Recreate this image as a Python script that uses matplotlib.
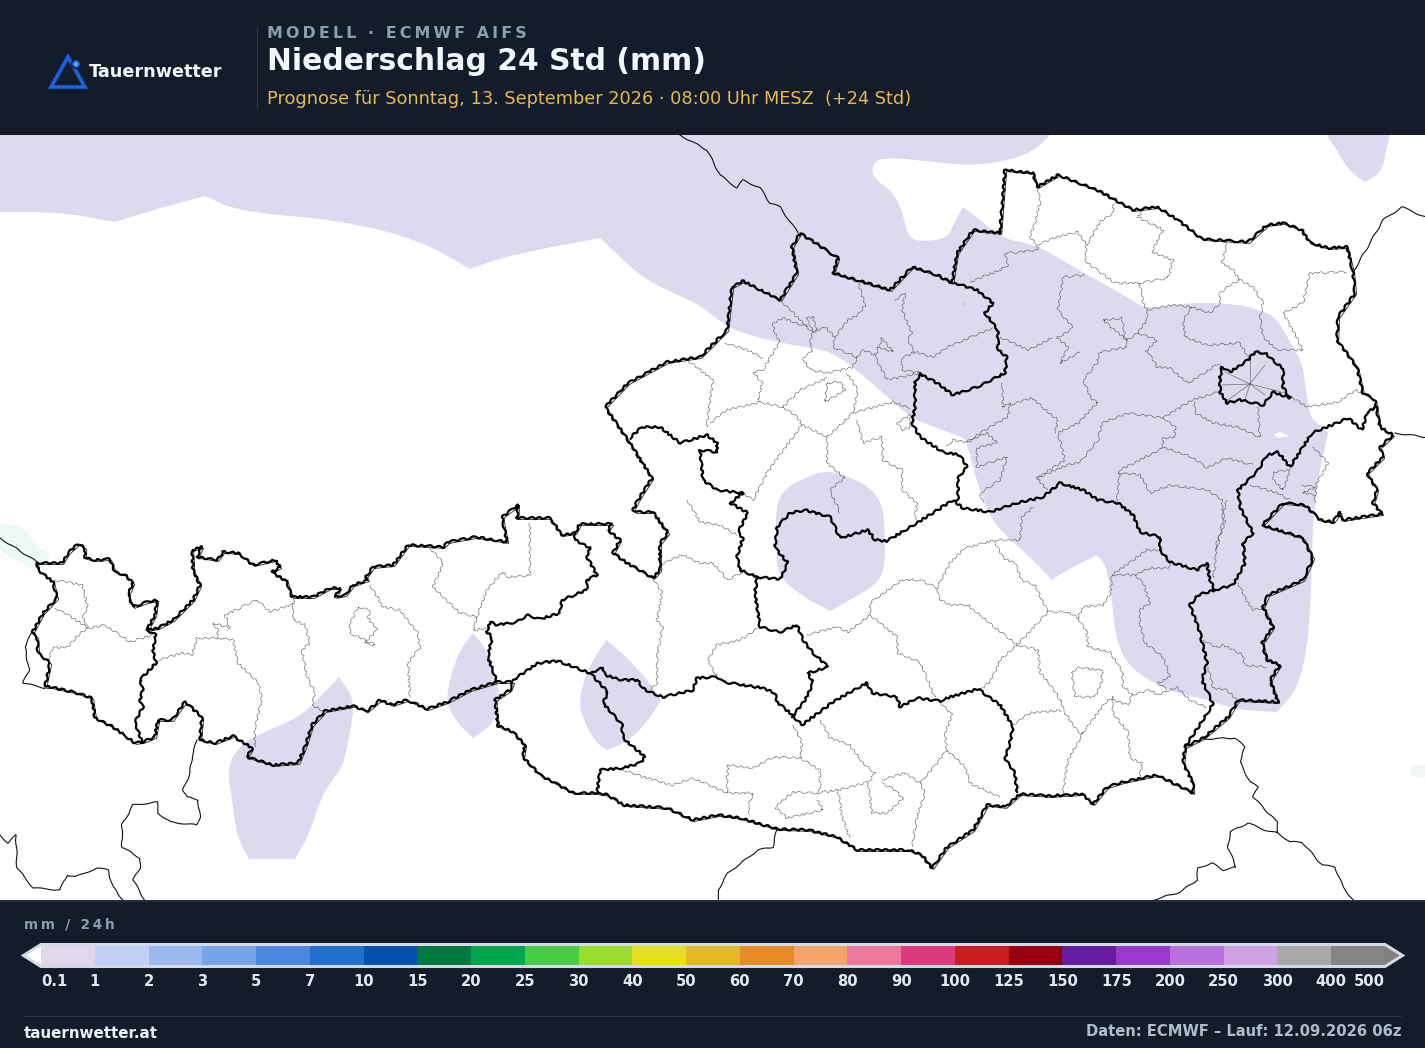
#!/usr/bin/env python3
"""Tauernwetter precipitation map, ECMWF AIFS, 24 h total."""

import matplotlib
matplotlib.use('Agg')
import matplotlib.pyplot as plt
from matplotlib.colors import BoundaryNorm, ListedColormap
from matplotlib.cm import ScalarMappable
from matplotlib.patches import Polygon, Circle, PathPatch
from matplotlib.path import Path
from matplotlib.transforms import offset_copy

W, H = 1425, 1048
BG = '#121c2a'

# Colour scale
LEVELS = [0.1, 1, 2, 3, 5, 7, 10, 15, 20, 25, 30, 40, 50, 60, 70, 80, 90, 100,
          125, 150, 175, 200, 250, 300, 400, 500]
LEVEL_LABELS = ['0.1', '1', '2', '3', '5', '7', '10', '15', '20', '25', '30', '40', '50',
                '60', '70', '80', '90', '100', '125', '150', '175', '200', '250', '300',
                '400', '500']
LEVEL_COLORS = ['#e0d8ea', '#c0d0f5', '#98b8ee', '#78a4e8', '#4a88e0', '#2070d0', '#0850b0',
                '#007a40', '#00a550', '#48cc48', '#98dc30', '#e4e020', '#e4b820', '#e88a28',
                '#f4a468', '#ec7a9c', '#dc3a7c', '#cc1c1c', '#980010', '#661ca0', '#9838cc',
                '#b870dc', '#d0a0e4', '#a8a8a8', '#848484']

# Precipitation areas, map units; a repeated vertex keeps that corner sharp
RAIN_NORTH_EAST = [(-30, 100), (-30, 212), (0, 212), (60, 212), (115, 222), (115, 222), (160, 208), (205, 196), (205, 196), (240, 212),
    (340, 220), (420, 240), (470, 269), (470, 269), (510, 255), (600, 238), (600, 238), (620, 257), (643, 278), (673, 293),
    (700, 305), (727, 327), (750, 335), (780, 343), (813, 348), (833, 353), (857, 370), (883, 393),
    (910, 417), (933, 427), (963, 437), (967, 443), (977, 483), (990, 517), (1005, 535), (1030, 557),
    (1052, 580), (1052, 580), (1067, 570), (1097, 555), (1097, 555), (1107, 567), (1112, 600), (1115, 633), (1123, 657),
    (1137, 673), (1163, 688), (1183, 695), (1210, 700), (1237, 710), (1277, 712), (1277, 712), (1297, 690),
    (1307, 650), (1310, 610), (1312, 567), (1313, 523), (1315, 507), (1317, 483), (1328, 433), (1328, 433),
    (1320, 425), (1310, 418), (1305, 383), (1302, 363), (1293, 347), (1277, 318), (1260, 310),
    (1230, 303), (1180, 303), (1147, 310), (1127, 297), (1100, 282), (1070, 265), (1037, 245),
    (1000, 238), (977, 217), (963, 207), (963, 207), (953, 225), (948, 238), (920, 242), (908, 237), (903, 213),
    (893, 192), (873, 178), (872, 163), (887, 157), (933, 162), (975, 166), (1025, 157), (1052, 135), (1075, 100)]
RAIN_CENTER = [(776, 503), (787, 487), (807, 477), (827, 470), (853, 478), (873, 490), (883, 507),
    (885, 533), (885, 567), (877, 585), (830, 611), (830, 611), (800, 595), (777, 575), (776, 540)]
RAIN_SOUTH_WEST = [(339, 677), (339, 677), (355, 700), (350, 733), (343, 767), (330, 783), (320, 800), (310, 833),
    (295, 859), (295, 859), (249, 859), (249, 859), (237, 837), (232, 800), (227, 767), (240, 745), (257, 735), (300, 717),
    (320, 697)]
RAIN_ZILLER = [(473, 633), (473, 633), (487, 650), (498, 683), (500, 707), (492, 725), (473, 738), (473, 738), (457, 723),
    (446, 703), (450, 677), (460, 650)]
RAIN_TAUERN = [(606, 640), (606, 640), (627, 657), (650, 683), (661, 700), (661, 700), (647, 723), (627, 742), (607, 750), (607, 750),
    (595, 742), (582, 717), (579, 700), (587, 670)]
RAIN_TOP_RIGHT = [(1315, 110), (1326, 135), (1337, 150), (1348, 170), (1365, 182), (1365, 182), (1382, 172), (1386, 150), (1390, 135), (1395, 110)]
TRACE_WEST = [(-20, 522), (25, 525), (33, 545), (55, 555), (37, 570), (25, 565), (-20, 540)]
TRACE_EAST = [(1412, 765), (1440, 765), (1440, 777), (1412, 777), (1409, 771)]
DRY_SPECK = [(1273, 434), (1280, 432), (1290, 436), (1278, 438)]
WET_SPECK = [(960, 304), (963, 301), (967, 304), (963, 307)]

# Austria, outer border
AUSTRIA = [(37, 563), (50, 563), (62, 563), (68, 553), (78, 544), (85, 548), (85, 558), (95, 560),
    (110, 559), (115, 572), (125, 575), (133, 583), (128, 595), (133, 607), (147, 602), (157, 600),
    (155, 615), (147, 630), (158, 628), (173, 620), (193, 600), (200, 585), (193, 570), (192, 550),
    (202, 547), (197, 557), (217, 560), (223, 552), (238, 553), (253, 565), (275, 560), (280, 567),
    (272, 572), (287, 582), (292, 597), (313, 597), (330, 588), (340, 588), (335, 597), (345, 595),
    (353, 585), (368, 580), (365, 578), (373, 567), (393, 565), (408, 545), (443, 547), (448, 542),
    (475, 537), (500, 541), (507, 542), (502, 517), (518, 505), (517, 518), (550, 518), (562, 535),
    (575, 533), (580, 524), (612, 524), (608, 530), (620, 540), (613, 553), (627, 563), (653, 578),
    (660, 570), (660, 543), (668, 533), (653, 512), (635, 512), (633, 510), (638, 500), (652, 478),
    (628, 440), (605, 407), (628, 383), (667, 362), (700, 357), (727, 330), (732, 287), (743, 281),
    (780, 300), (797, 273), (792, 247), (800, 233), (838, 258), (833, 273), (890, 290), (912, 267),
    (937, 275), (952, 283), (957, 253), (973, 230), (1000, 233), (1005, 170), (1033, 173), (1037, 187),
    (1058, 175), (1097, 190), (1133, 210), (1157, 207), (1178, 220), (1202, 239), (1248, 242),
    (1267, 225), (1283, 223), (1302, 230), (1310, 243), (1328, 248), (1347, 247), (1353, 272),
    (1355, 293), (1338, 317), (1337, 340), (1357, 367), (1363, 393), (1375, 400), (1378, 417),
    (1380, 427), (1393, 435), (1380, 447), (1383, 457), (1367, 473), (1377, 490), (1373, 503),
    (1382, 514), (1342, 520), (1340, 512), (1333, 522), (1320, 520), (1305, 505), (1283, 503),
    (1262, 525), (1303, 538), (1313, 558), (1303, 580), (1268, 595), (1263, 607), (1273, 627),
    (1262, 643), (1267, 660), (1280, 665), (1270, 680), (1278, 702), (1238, 700), (1228, 717),
    (1203, 738), (1185, 747), (1183, 763), (1193, 783), (1193, 793), (1157, 775), (1123, 782),
    (1107, 787), (1093, 804), (1082, 794), (1050, 796), (1020, 794), (1005, 807), (987, 805),
    (973, 830), (947, 847), (932, 868), (922, 855), (908, 850), (857, 850), (837, 837), (808, 830),
    (777, 829), (740, 818), (718, 815), (693, 820), (667, 808), (623, 805), (608, 795), (595, 793),
    (573, 793), (540, 775), (523, 757), (525, 745), (513, 732), (498, 726), (495, 700), (510, 690),
    (513, 682), (497, 682), (470, 690), (447, 702), (427, 709), (407, 700), (392, 705), (380, 700),
    (367, 711), (353, 706), (325, 711), (312, 725), (305, 747), (298, 763), (273, 765), (247, 757),
    (252, 748), (233, 736), (215, 743), (200, 740), (202, 717), (185, 702), (172, 720), (158, 720),
    (155, 737), (142, 742), (135, 743), (113, 727), (95, 718), (92, 698), (73, 692), (50, 687),
    (45, 687), (50, 663), (38, 653), (37, 637), (32, 633), (43, 613), (57, 598), (53, 582), (38, 570),
    (37, 563)]

# State borders
STATES = [
    [(147, 630), (156, 635), (153, 650), (156, 663), (140, 680), (143, 690), (140, 700), (143, 707),
     (135, 722), (142, 742)],
    [(575, 533), (575, 540), (590, 548), (587, 557), (597, 575), (587, 580), (587, 590), (562, 600),
     (560, 613), (540, 619), (527, 615), (517, 622), (497, 625), (490, 622), (487, 632), (492, 637),
     (488, 657), (497, 682)],
    [(513, 680), (538, 663), (558, 661), (590, 673), (608, 692), (603, 703), (622, 725), (623, 738),
     (645, 757), (640, 763), (623, 768), (600, 770), (597, 793)],
    [(592, 672), (603, 668), (605, 675), (622, 680), (637, 680), (645, 690), (663, 697), (693, 690),
     (697, 678), (717, 677), (723, 682), (763, 688), (775, 693), (777, 702), (790, 713), (802, 725),
     (833, 702), (850, 692), (867, 683), (872, 693), (897, 697), (900, 707), (917, 698), (940, 701),
     (950, 697), (978, 689), (1000, 705), (1013, 727), (1010, 743), (1005, 758), (1015, 773), (1017, 792)],
    [(792, 717), (805, 700), (813, 683), (808, 673), (828, 667), (813, 653), (803, 640), (797, 625),
     (780, 632), (760, 627), (755, 593), (757, 577), (740, 570), (737, 557), (743, 538), (738, 532),
     (748, 513), (730, 503), (743, 493), (717, 490), (703, 480), (700, 450), (717, 452), (717, 443),
     (707, 435), (680, 443), (660, 427), (642, 427), (630, 438)],
    [(757, 577), (780, 579), (788, 563), (775, 548), (777, 527), (790, 513), (805, 510), (830, 517),
     (840, 538), (868, 530), (875, 540), (887, 541), (917, 523), (953, 500), (963, 508), (990, 512),
     (1017, 503), (1043, 497), (1060, 483), (1083, 490), (1098, 500), (1118, 503), (1133, 515),
     (1140, 532), (1160, 537), (1160, 550), (1170, 562), (1197, 570), (1207, 563), (1210, 580),
     (1215, 590), (1198, 595), (1190, 605), (1200, 633), (1207, 663), (1202, 680), (1213, 704),
     (1203, 720), (1185, 747)],
    [(1215, 590), (1233, 585), (1245, 563), (1243, 543), (1253, 533), (1240, 507), (1238, 490),
     (1257, 472), (1267, 455), (1278, 452), (1290, 467), (1312, 433), (1337, 423), (1348, 418),
     (1362, 430), (1367, 412), (1377, 407)],
    [(955, 283), (977, 290), (993, 303), (985, 313), (998, 330), (998, 350), (1007, 357), (1005, 373),
     (997, 377), (977, 387), (953, 395), (937, 383), (920, 374), (915, 383), (915, 407), (912, 423),
     (920, 437), (943, 452), (960, 455), (967, 467), (958, 478), (958, 500)],
    [(1220, 377), (1222, 367), (1230, 372), (1248, 360), (1255, 352), (1265, 353), (1275, 362),
     (1283, 368), (1283, 387), (1290, 398), (1273, 392), (1263, 405), (1240, 400), (1227, 403),
     (1220, 392), (1220, 377)],
]

# Neighbouring countries
NEIGHBOURS = [
    [(0, 538), (37, 562)],
    [(680, 135), (707, 150), (720, 175), (737, 188), (743, 180), (760, 188), (770, 203), (780, 207), (798, 233)],
    [(1353, 272), (1370, 243), (1383, 220), (1402, 207), (1425, 217)],
    [(1395, 433), (1425, 437)],
    [(197, 740), (192, 757), (190, 773), (183, 790), (187, 797), (198, 800), (200, 817), (197, 825),
     (170, 822), (158, 813), (157, 802), (133, 805), (122, 825), (122, 847), (140, 858), (140, 868),
     (133, 880), (143, 897), (145, 900)],
    [(0, 835), (8, 843), (16, 835), (17, 868), (27, 880), (33, 888), (60, 890), (67, 875), (75, 877),
     (97, 868), (108, 870), (113, 887), (123, 900)],
    [(32, 632), (25, 647), (29, 670), (23, 683), (45, 688)],
    [(777, 829), (773, 847), (758, 850), (728, 873), (718, 890), (719, 900)],
    [(1203, 739), (1235, 738), (1245, 747), (1240, 762), (1250, 782), (1258, 787), (1253, 797),
     (1277, 822), (1278, 833), (1265, 830), (1248, 823), (1230, 832), (1228, 847), (1236, 867),
     (1223, 870), (1212, 863), (1198, 868), (1197, 880), (1180, 892), (1153, 900)],
    [(1278, 833), (1290, 842), (1302, 842), (1322, 865), (1335, 867), (1343, 887), (1353, 900)],
]

# District borders
DISTRICTS = [
    [(55, 580), (82, 585), (88, 607), (83, 617), (88, 628)],
    [(55, 608), (68, 615), (88, 628)],
    [(48, 660), (53, 648), (68, 647), (80, 633), (88, 628), (105, 625), (130, 642), (152, 635)],
    [(156, 661), (182, 653), (192, 655), (197, 638), (217, 638), (218, 630), (213, 623), (230, 628),
     (225, 615), (257, 600), (270, 612), (293, 604), (295, 598)],
    [(218, 638), (233, 640), (238, 663), (258, 682), (262, 697), (255, 727), (255, 747)],
    [(293, 604), (293, 620), (305, 625), (310, 643), (302, 650), (307, 677), (315, 692), (312, 705), (323, 711)],
    [(358, 607), (370, 610), (368, 618), (377, 630), (365, 643), (375, 645), (350, 633), (350, 623), (358, 607)],
    [(370, 585), (383, 607), (400, 610), (418, 633), (420, 647), (408, 663), (410, 697)],
    [(430, 548), (443, 563), (433, 587), (460, 613), (477, 617), (473, 630), (490, 628)],
    [(477, 617), (487, 590), (502, 572), (508, 577), (530, 575), (530, 523)],
    [(653, 578), (662, 593), (657, 620), (663, 627), (657, 657), (657, 683), (650, 690)],
    [(660, 565), (682, 555), (700, 563), (713, 563), (728, 580), (743, 572)],
    [(687, 500), (700, 522), (720, 525), (737, 535)],
    [(758, 628), (740, 640), (717, 645), (708, 660), (717, 677)],
    [(807, 635), (837, 627), (848, 632), (870, 615), (870, 603), (902, 580), (920, 580), (937, 588),
     (950, 563), (965, 548), (977, 545), (995, 540), (1020, 540), (1022, 517), (1033, 507)],
    [(870, 615), (897, 637), (898, 653), (920, 662), (935, 698)],
    [(937, 588), (940, 600), (950, 605), (968, 605), (992, 625), (1017, 645), (1048, 612), (1067, 612),
     (1078, 618), (1083, 607), (1103, 605), (1110, 595), (1112, 575), (1147, 550), (1160, 550)],
    [(995, 542), (1003, 558), (1015, 563), (1022, 580), (1035, 585), (1048, 612)],
    [(940, 702), (952, 715), (945, 733), (947, 750), (933, 768), (920, 783), (925, 793), (917, 817), (912, 847)],
    [(947, 750), (965, 767), (970, 783), (985, 790), (1000, 797)],
    [(623, 770), (637, 775), (672, 785), (693, 778), (727, 793), (753, 793), (748, 807), (750, 815)],
    [(727, 793), (728, 765), (753, 768), (773, 757), (800, 758), (820, 770), (820, 790), (817, 793),
     (793, 792), (775, 807), (787, 818), (823, 810), (817, 800)],
    [(793, 725), (802, 743), (800, 758)],
    [(820, 720), (830, 738), (850, 745), (863, 763), (875, 773), (868, 782), (838, 790), (817, 793)],
    [(838, 790), (842, 817), (850, 838)],
    [(868, 783), (872, 813), (887, 813), (903, 798), (892, 788), (882, 783)],
    [(882, 780), (905, 773), (920, 783)],
    [(1017, 645), (1000, 660), (990, 682), (980, 690)],
    [(1017, 645), (1038, 650), (1040, 672), (1053, 688), (1062, 703), (1063, 710), (1078, 732), (1083, 733)],
    [(1013, 725), (1030, 713), (1062, 710)],
    [(1083, 733), (1105, 703), (1113, 697), (1113, 713), (1128, 732), (1130, 758), (1142, 763), (1140, 777)],
    [(1083, 733), (1068, 760), (1063, 793)],
    [(1078, 618), (1087, 633), (1088, 647), (1110, 652), (1123, 672), (1122, 685), (1132, 695), (1128, 705), (1113, 700)],
    [(1132, 695), (1150, 690), (1158, 695), (1177, 687), (1190, 700), (1207, 707)],
    [(1072, 672), (1078, 668), (1102, 670), (1102, 682), (1095, 697), (1075, 697), (1072, 672)],
    [(1112, 575), (1135, 575), (1150, 568), (1168, 568), (1170, 562)],
    [(1135, 575), (1143, 583), (1150, 603), (1140, 610), (1140, 623), (1145, 643), (1163, 657), (1170, 677),
     (1158, 683), (1167, 690)],
    [(1203, 640), (1217, 648), (1223, 645), (1243, 655), (1245, 665), (1267, 667)],
    [(1208, 667), (1213, 688), (1227, 690), (1237, 700)],
    [(1238, 583), (1245, 598), (1253, 610), (1265, 608)],
    [(1227, 500), (1223, 513), (1225, 523), (1217, 542), (1215, 567), (1213, 578)],
    [(1038, 188), (1040, 202), (1035, 223), (1030, 237), (1037, 245), (1038, 250), (1020, 252), (1005, 253),
     (1008, 265), (1000, 270)],
    [(1037, 245), (1057, 237), (1078, 232), (1087, 245), (1085, 260), (1093, 267), (1115, 283), (1140, 283),
     (1168, 278), (1173, 260), (1152, 252), (1163, 230), (1138, 217), (1143, 210)],
    [(1087, 245), (1100, 222), (1113, 213), (1113, 203)],
    [(1140, 283), (1143, 303), (1147, 310), (1147, 320), (1138, 333)],
    [(1147, 310), (1173, 305), (1192, 307), (1210, 313), (1220, 303), (1220, 293), (1230, 285), (1240, 280),
     (1253, 287), (1263, 303), (1260, 317), (1263, 337), (1277, 350)],
    [(1227, 243), (1222, 263), (1233, 270), (1240, 280)],
    [(1192, 307), (1183, 320), (1185, 337), (1207, 345), (1240, 343), (1248, 357)],
    [(1277, 350), (1303, 350), (1287, 320), (1283, 313), (1303, 303), (1310, 273), (1347, 272)],
    [(1285, 393), (1307, 407), (1338, 402), (1355, 390), (1363, 393)],
    [(1138, 333), (1127, 340), (1103, 320), (1122, 318), (1127, 347), (1100, 352), (1097, 363), (1083, 380),
     (1092, 400), (1098, 402), (1078, 423), (1058, 433), (1065, 460), (1037, 478), (1047, 490)],
    [(1080, 352), (1060, 363), (1068, 347), (1057, 338), (1073, 328), (1058, 310), (1063, 277), (1085, 275)],
    [(1000, 337), (1028, 350), (1052, 338)],
    [(1147, 350), (1157, 367), (1170, 368), (1188, 383), (1220, 363)],
    [(1138, 333), (1157, 340), (1145, 352)],
    [(1010, 405), (1032, 398), (1042, 407), (1058, 420), (1055, 433)],
    [(1218, 392), (1192, 400), (1163, 418), (1128, 413), (1102, 423), (1098, 440), (1080, 462), (1067, 465), (1037, 478)],
    [(1163, 418), (1175, 427), (1175, 437), (1163, 438), (1163, 447), (1192, 457), (1207, 468), (1227, 458), (1253, 465)],
    [(1163, 448), (1120, 470), (1118, 490), (1117, 503)],
    [(1118, 473), (1140, 475), (1150, 493), (1170, 485), (1207, 490), (1222, 500), (1223, 517), (1217, 550)],
    [(1195, 402), (1195, 413), (1213, 423), (1238, 427), (1260, 437), (1258, 407)],
    [(1250, 485), (1277, 493), (1290, 500)],
    [(1273, 472), (1290, 470), (1283, 490), (1273, 480), (1273, 472)],
    [(1313, 447), (1328, 463), (1317, 483), (1315, 503)],
    [(1302, 485), (1315, 487), (1303, 493), (1315, 495)],
    [(782, 302), (807, 327), (813, 332), (810, 343), (813, 350), (803, 358), (810, 370), (828, 373), (853, 367),
     (857, 357), (833, 347), (835, 337), (825, 327), (813, 332)],
    [(813, 332), (807, 318), (813, 317), (817, 332)],
    [(807, 327), (783, 318), (773, 323), (775, 333), (780, 342), (770, 358), (763, 370), (753, 372), (762, 383), (758, 402)],
    [(725, 343), (747, 350), (763, 358)],
    [(687, 360), (713, 380), (708, 417), (707, 427)],
    [(710, 423), (727, 410), (760, 402), (783, 407), (800, 390), (827, 378)],
    [(783, 407), (797, 417), (802, 425), (813, 430), (827, 437), (853, 413), (858, 390), (847, 373)],
    [(853, 413), (893, 402), (910, 408)],
    [(857, 420), (863, 443), (882, 437), (883, 460), (902, 470), (902, 490), (917, 503), (915, 520)],
    [(827, 437), (827, 463), (845, 478), (830, 490), (840, 513)],
    [(802, 425), (783, 450), (767, 473), (760, 487), (753, 500), (743, 493)],
    [(827, 383), (840, 382), (845, 390), (825, 402), (827, 383)],
    [(902, 370), (902, 358), (915, 352), (933, 357), (947, 347), (993, 328)],
    [(902, 370), (920, 373), (887, 380), (875, 357), (882, 338), (893, 352), (877, 347)],
    [(857, 357), (863, 350), (875, 355)],
    [(835, 337), (848, 320), (858, 315), (865, 305), (858, 283)],
    [(895, 300), (905, 293), (902, 310), (912, 333), (908, 340), (915, 352)],
    [(970, 282), (1000, 270)],
    [(897, 423), (910, 415), (910, 427), (902, 430), (897, 423)],
    [(1002, 383), (1003, 407), (1010, 403), (1008, 417), (990, 427), (967, 442), (953, 440), (947, 447)],
    [(967, 442), (987, 433), (997, 443), (977, 448), (977, 467), (1007, 457), (1000, 480), (980, 493), (983, 503)],
]

# Vienna's inner districts
VIENNA_HUB = (1250, 384)
VIENNA_SPOKES = [(1225, 372), (1222, 385), (1228, 400), (1245, 400), (1265, 395), (1285, 393), (1265, 365), (1250, 360)]


def fy(y):
    """Pixel row from the top -> figure fraction."""
    return 1 - y / H


def smooth_patch(points, color):
    """Closed outline as quadratic curves through edge midpoints, points act as control points."""
    n = len(points)
    mids = [((points[i][0] + points[(i + 1) % n][0]) / 2, (points[i][1] + points[(i + 1) % n][1]) / 2)
            for i in range(n)]
    verts = [mids[-1]]
    codes = [Path.MOVETO]
    for i in range(n):
        verts += [points[i], mids[i]]
        codes += [Path.CURVE3, Path.CURVE3]
    return PathPatch(Path(verts, codes), fc=color, ec='none', zorder=1)


fig = plt.figure(figsize=(W / 100, H / 100), dpi=100, facecolor=BG)
plt.rcParams['font.family'] = 'DejaVu Sans'

# Map panel
ax = fig.add_axes([0, fy(900), 1, 765 / H])
ax.set_xlim(0, W)
ax.set_ylim(900, 135)
ax.axis('off')
ax.add_patch(plt.Rectangle((0, 135), W, 765, color='white', zorder=0))

RAIN = '#ded9ee'
for area in [RAIN_NORTH_EAST, RAIN_CENTER, RAIN_SOUTH_WEST, RAIN_ZILLER, RAIN_TAUERN, RAIN_TOP_RIGHT]:
    ax.add_patch(smooth_patch(area, RAIN))
for area in [TRACE_WEST, TRACE_EAST]:
    ax.add_patch(smooth_patch(area, '#eef8f6'))
ax.add_patch(Polygon(DRY_SPECK, closed=True, fc='white', ec='none', zorder=1))
ax.add_patch(Polygon(WET_SPECK, closed=True, fc='#c4d4f6', ec='none', zorder=1))


def draw(line, sketch=None, **kw):
    xs, ys = zip(*line)
    artist, = ax.plot(xs, ys, solid_joinstyle='round', **kw)
    if sketch:
        artist.set_sketch_params(*sketch)
    return artist


for line in DISTRICTS:
    draw(line, sketch=(1.0, 9, 3), color='#4a4a4a', lw=0.55, ls=(0, (1.6, 0.7)), zorder=2)
for spoke in VIENNA_SPOKES:
    draw([VIENNA_HUB, spoke], color='#555555', lw=0.4, zorder=2)
for line in NEIGHBOURS:
    draw(line, sketch=(0.6, 25, 2), color='#111111', lw=0.8, zorder=3)

# double-line look where the country border runs next to the state outline
shifted = offset_copy(ax.transData, fig=fig, x=1.2, y=-1.0, units='points')
xs, ys = zip(*AUSTRIA)
ax.plot(xs, ys, color='#222222', lw=0.6, transform=shifted, zorder=3)
for line in STATES:
    draw(line, sketch=(1.0, 10, 3), color='black', lw=1.6, zorder=4)
draw(AUSTRIA, sketch=(1.0, 10, 3), color='black', lw=1.6, zorder=4)

# Header
fig.text(267 / W, fy(33), '\u2009'.join('MODELL · ECMWF AIFS'), color='#8f9db0', fontsize=11.4,
         fontweight='bold', va='center', ha='left')
fig.text(267 / W, fy(62), 'Niederschlag 24 Std (mm)', color='#f2f5fa', fontsize=21.4,
         fontweight='bold', va='center', ha='left')
fig.text(267 / W, fy(99), 'Prognose für Sonntag, 13. September 2026 · 08:00 Uhr MESZ  (+24 Std)',
         color='#e8b84a', fontsize=12.8, va='center', ha='left')
fig.add_artist(plt.Line2D([257 / W, 257 / W], [fy(27), fy(108)], color='#2c3848', lw=0.8))

# Logo
logo = fig.add_axes([0, fy(135), 1, 135 / H])
logo.set_xlim(0, W)
logo.set_ylim(135, 0)
logo.axis('off')
logo.patch.set_alpha(0)
logo.add_patch(Polygon([(68, 57), (85, 87), (51, 87)], closed=True, fc='none', ec='#1d62e6',
                       lw=2.6, joinstyle='miter'))
logo.add_patch(Circle((76, 64), 4.5, fc='#1d62e6', ec=BG, lw=1))
logo.add_patch(Circle((76, 64), 2, fc='#6aa8f5', ec='none'))
logo.text(89, 72, 'Tauernwetter', color='#f2f5fa', fontsize=12.7, fontweight='bold', va='center', ha='left')

# Colour bar
fig.add_artist(plt.Line2D([0, 1], [fy(900.5), fy(900.5)], color='#26303e', lw=1.2))
fig.text(24 / W, fy(925), '\u2009'.join('mm / 24h'), color='#8f9db0', fontsize=9.8,
         fontweight='bold', va='center', ha='left')

cax = fig.add_axes([23.5 / W, fy(966.5), 1379 / W, 22 / H])
cmap = ListedColormap(LEVEL_COLORS)
cmap.set_under('white')
cmap.set_over('#808080')
norm = BoundaryNorm(LEVELS, cmap.N)
cbar = fig.colorbar(ScalarMappable(norm=norm, cmap=cmap), cax=cax, orientation='horizontal',
                    spacing='uniform', extend='both', extendfrac=17.5 / 1344, drawedges=False)
cbar.outline.set_edgecolor('#d2dae4')
cbar.outline.set_linewidth(2.2)
cbar.set_ticks(LEVELS, labels=LEVEL_LABELS)
cbar.minorticks_off()
cax.tick_params(length=0, pad=5.5, labelsize=10.6, labelcolor='#e4e9f0')
for t in cax.get_xticklabels():
    t.set_fontweight('bold')
cax.get_xticklabels()[0].set_ha('left')
cax.get_xticklabels()[-1].set_ha('right')

# Footer
fig.add_artist(plt.Line2D([24 / W, 1401 / W], [fy(1015.5), fy(1015.5)], color='#2a3543', lw=0.8))
fig.text(24 / W, fy(1034), 'tauernwetter.at', color='#eef1f6', fontsize=10.9, fontweight='bold',
         va='center', ha='left')
fig.text(1401 / W, fy(1031), 'Daten: ECMWF – Lauf: 12.09.2026 06z', color='#b0bccb', fontsize=10.65,
         fontweight='bold', va='center', ha='right')

fig.savefig('out.png', dpi=100, facecolor=BG)
